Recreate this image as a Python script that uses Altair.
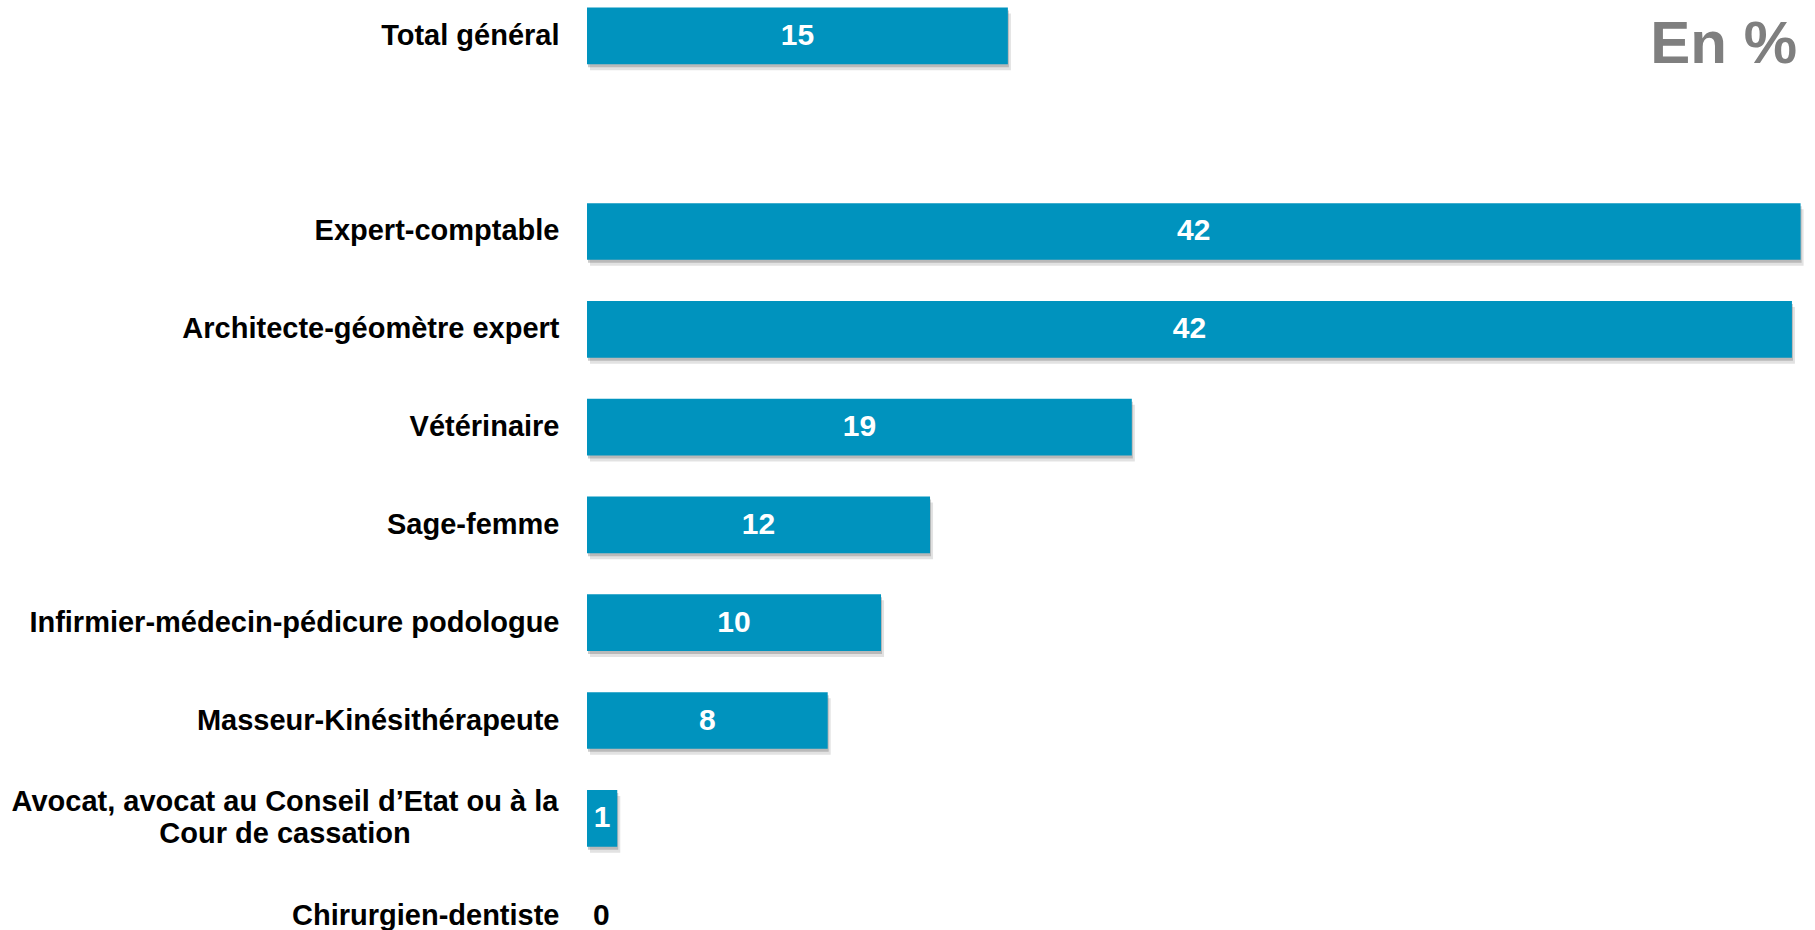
import altair as alt
import pandas as pd

# ---- data ----
categories = [
    "Total général",
    "Expert-comptable",
    "Architecte-géomètre expert",
    "Vétérinaire",
    "Sage-femme",
    "Infirmier-médecin-pédicure podologue",
    "Masseur-Kinésithérapeute",
    "Avocat, avocat au Conseil d’Etat ou à la Cour de cassation",
    "Chirurgien-dentiste",
]
values = [14.6, 42.1, 41.8, 18.9, 11.9, 10.2, 8.35, 1.05, 0.0]
value_labels = ["15", "42", "42", "19", "12", "10", "8", "1", "0"]
display_names = [
    "Total général",
    "Expert-comptable",
    "Architecte-géomètre expert",
    "Vétérinaire",
    "Sage-femme",
    "Infirmier-médecin-pédicure podologue",
    "Masseur-Kinésithérapeute",
    "Avocat, avocat au Conseil d’Etat ou à la\nCour de cassation",
    "Chirurgien-dentiste",
]
# an empty slot separates the total from the professions
y_domain = [categories[0], " "] + categories[1:]

df = pd.DataFrame({
    "cat": categories,
    "value": values,
    "label": value_labels,
    "name": display_names,
    "multi": [("\n" in n) for n in display_names],
})

FONT = "Liberation Sans"
BAR_COLOR = "#0093BE"

y_scale = alt.Scale(domain=y_domain, range=[0, 952], paddingInner=0.42, paddingOuter=0.077)
x_scale = alt.Scale(domain=[0, 42.6], nice=False, zero=True)

y_enc = alt.Y(
    "cat:N",
    scale=y_scale,
    sort=None,
    axis=alt.Axis(
        title=None,
        domain=False,
        ticks=False,
        grid=False,
        labelFont=FONT,
        labelFontSize=29,
        labelFontWeight="bold",
        labelColor="#000000",
        labelPadding=28,
        labelLimit=700,
        labelExpr="indexof(datum.value, 'Avocat') == 0 ? '' : datum.value",
    ),
)
x_enc = alt.X("value:Q", scale=x_scale, axis=None)

base = alt.Chart(df)

shadow1 = base.mark_bar(
    color="#6e6e6e", opacity=0.2, xOffset=3, x2Offset=6, yOffset=6, y2Offset=6
).encode(x=x_enc, y=y_enc)

shadow2 = base.mark_bar(
    color="#6e6e6e", opacity=0.35, xOffset=1, x2Offset=3, yOffset=3, y2Offset=3
).encode(x=x_enc, y=y_enc)

bars = base.mark_bar(color=BAR_COLOR).encode(x=x_enc, y=y_enc)

val_text = base.transform_filter("datum.value > 0").transform_calculate(
    mid="datum.value / 2"
).mark_text(
    font=FONT, fontSize=30, fontWeight="bold", color="white", align="center", baseline="middle"
).encode(
    x=alt.X("mid:Q", scale=x_scale, axis=None),
    y=y_enc,
    text="label:N",
)

zero_text = base.transform_filter("datum.value == 0").mark_text(
    font=FONT, fontSize=30, fontWeight="bold", color="black", align="left", baseline="middle", dx=6
).encode(x=x_enc, y=y_enc, text="label:N")

avocat_label = base.transform_filter("datum.multi").mark_text(
    font=FONT, fontSize=29, fontWeight="bold", color="black", align="center",
    baseline="middle", lineBreak="\n", lineHeight=32, dy=-16,
).encode(x=alt.value(-302), y=y_enc, text="name:N")

unit = alt.Chart(pd.DataFrame({"t": ["En %"]})).mark_text(
    font=FONT, fontSize=60, fontWeight="bold", color="#7f7f7f", align="right", baseline="alphabetic"
).encode(x=alt.value(1210), y=alt.value(63), text="t:N")

chart = alt.layer(shadow1, shadow2, bars, val_text, zero_text, avocat_label, unit).properties(
    width=1228,
    height=930,
    padding={"left": 587, "top": 0, "right": 0, "bottom": 0},
    autosize=alt.AutoSizeParams(type="none"),
    background="white",
).configure_view(stroke=None)

chart.save("out.html", embed_options={"renderer": "svg", "actions": False})
